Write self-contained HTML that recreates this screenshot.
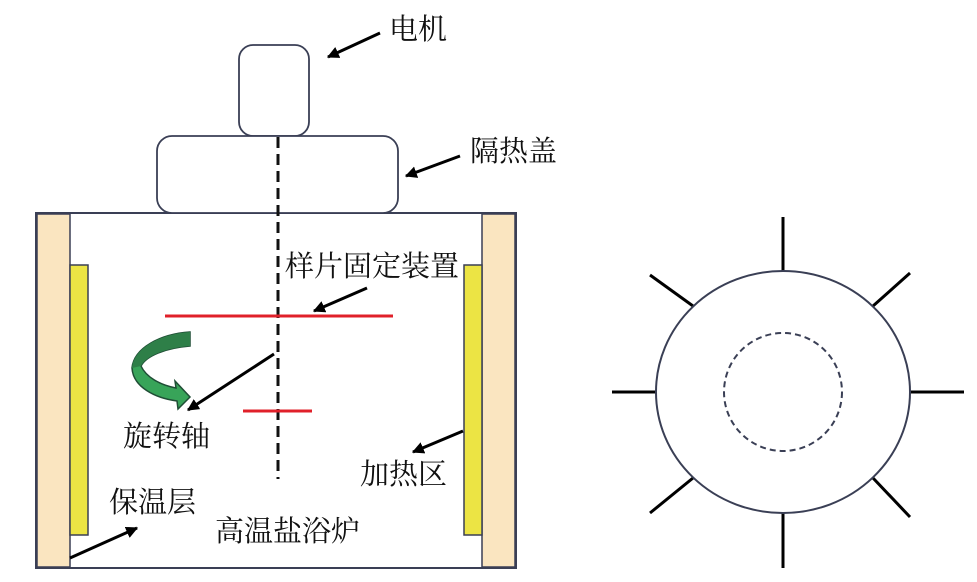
<!DOCTYPE html>
<html><head><meta charset="utf-8"><style>html,body{margin:0;padding:0;background:#fff}svg{display:block}text{font-family:"Liberation Serif","Noto Serif CJK SC","Noto Sans CJK SC",serif;font-size:29px;fill:#111;dominant-baseline:central}</style></head>
<body>
<svg width="977" height="582" viewBox="0 0 977 582" xmlns="http://www.w3.org/2000/svg">
<defs><marker id="a" viewBox="0 0 10 10" refX="9" refY="5" markerWidth="4" markerHeight="4" orient="auto"><path d="M0,0 L10,5 L0,10 Z" fill="#000"/></marker></defs>
<rect x="36" y="213" width="480" height="355" fill="#fff" stroke="#3a3f55" stroke-width="2"/>
<rect x="37" y="214" width="33" height="353" fill="#fae5c0" stroke="#3a3f55" stroke-width="1.5"/>
<rect x="482" y="214" width="33" height="353" fill="#fae5c0" stroke="#3a3f55" stroke-width="1.5"/>
<rect x="70" y="265" width="18" height="270" fill="#ece444" stroke="#3a3f55" stroke-width="1.5"/>
<rect x="464" y="265" width="18" height="270" fill="#ece444" stroke="#3a3f55" stroke-width="1.5"/>
<rect x="239" y="45" width="70" height="91" rx="14" fill="#fff" stroke="#3a3f55" stroke-width="1.8"/>
<rect x="157" y="136" width="241" height="77" rx="15" fill="#fff" stroke="#3a3f55" stroke-width="1.8"/>
<line x1="278" y1="137" x2="278" y2="479" stroke="#111" stroke-width="3" stroke-dasharray="11,6"/>
<line x1="165" y1="316" x2="393" y2="316" stroke="#e0202a" stroke-width="3"/>
<line x1="243" y1="411" x2="312" y2="411" stroke="#e0202a" stroke-width="3"/>
<path d="M190,332 L190,346 C165,348 146,356 141,366 C146,377 160,385 176,388 L175,381 L190,397 L178,409 L177,401 C155,398 133,387 132,368 C134,348 160,334 190,332 Z" fill="#38a459" stroke="#1f4d35" stroke-width="1.5"/>
<path d="M190,332 L190,346 C165,348 146,356 141,366 L132,368 C134,348 160,334 190,332 Z" fill="#2e7f48"/>
<g stroke="#000" stroke-width="3" marker-end="url(#a)">
<line x1="380" y1="33" x2="328" y2="57"/>
<line x1="460" y1="156" x2="406" y2="176"/>
<line x1="367" y1="288" x2="314" y2="311"/>
<line x1="274" y1="354" x2="188" y2="410"/>
<line x1="463" y1="431" x2="413" y2="452"/>
<line x1="70" y1="558" x2="137" y2="528"/>
</g>
<text x="389" y="30">电机</text>
<text x="470" y="152">隔热盖</text>
<text x="285" y="267">样片固定装置</text>
<text x="123" y="437">旋转轴</text>
<text x="360" y="475">加热区</text>
<text x="109" y="503">保温层</text>
<text x="215" y="532">高温盐浴炉</text>
<g stroke="#000" stroke-width="3">
<line x1="783" y1="217" x2="783" y2="271"/>
<line x1="783" y1="513" x2="783" y2="568"/>
<line x1="612" y1="392" x2="657" y2="392"/>
<line x1="910" y1="392" x2="964" y2="392"/>
<line x1="650" y1="275" x2="693" y2="306"/>
<line x1="910" y1="273" x2="873" y2="306"/>
<line x1="650" y1="513" x2="693" y2="478"/>
<line x1="910" y1="517" x2="873" y2="478"/>
</g>
<ellipse cx="783" cy="392" rx="127" ry="121" fill="#fff" stroke="#3a3f55" stroke-width="2"/>
<circle cx="783" cy="392" r="59" fill="none" stroke="#3a3f55" stroke-width="2" stroke-dasharray="6,4"/>
</svg>
</body></html>
